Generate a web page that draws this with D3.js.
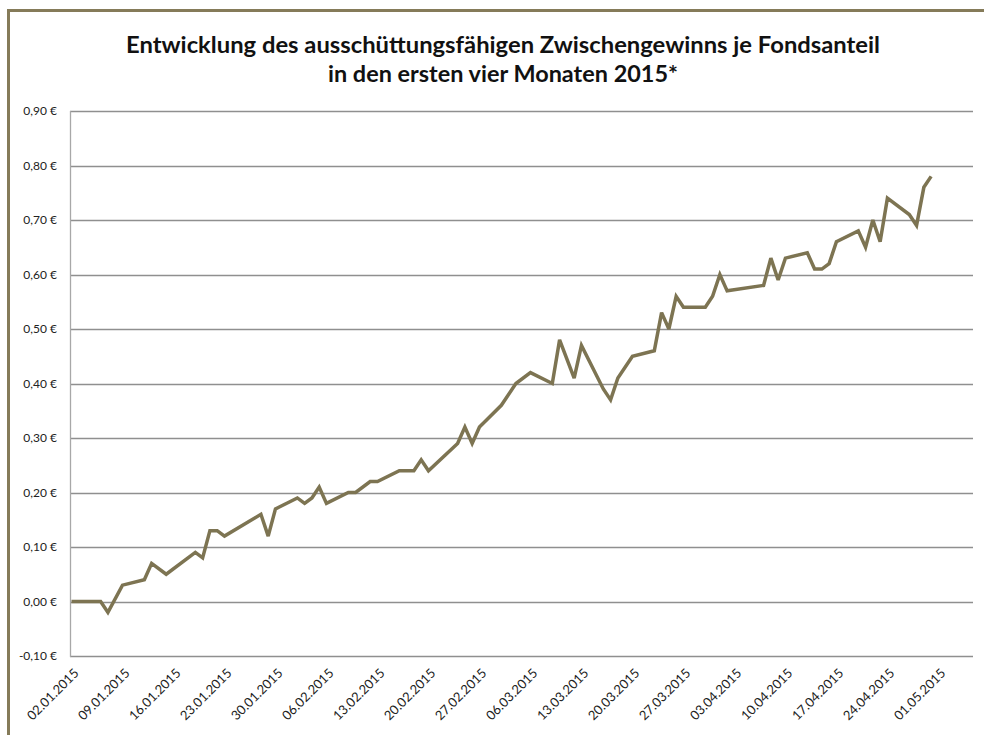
<!DOCTYPE html>
<html>
<head>
<meta charset="utf-8">
<script src="https://cdn.jsdelivr.net/npm/d3@7"></script>
<style>
  body { margin: 0; background: #fff; }
  svg { display: block; }
</style>
</head>
<body>
<div id="chart"></div>
<script>
// Werte je Handelstag (nur sichtbare Knickpunkte der Linie)
let dates = ["2015-01-02","2015-01-06","2015-01-07","2015-01-09","2015-01-12","2015-01-13","2015-01-15",
  "2015-01-19","2015-01-20","2015-01-21","2015-01-22","2015-01-23","2015-01-28","2015-01-29","2015-01-30",
  "2015-02-02","2015-02-03","2015-02-04","2015-02-05","2015-02-06","2015-02-09","2015-02-10","2015-02-12",
  "2015-02-13","2015-02-16","2015-02-18","2015-02-19","2015-02-20","2015-02-24","2015-02-25","2015-02-26",
  "2015-02-27","2015-03-02","2015-03-04","2015-03-06","2015-03-09","2015-03-10","2015-03-12","2015-03-13",
  "2015-03-16","2015-03-17","2015-03-18","2015-03-20","2015-03-23","2015-03-24","2015-03-25","2015-03-26",
  "2015-03-27","2015-03-30","2015-03-31","2015-04-01","2015-04-02","2015-04-07","2015-04-08","2015-04-09",
  "2015-04-10","2015-04-13","2015-04-14","2015-04-15","2015-04-16","2015-04-17","2015-04-20","2015-04-21",
  "2015-04-22","2015-04-23","2015-04-24","2015-04-27","2015-04-28","2015-04-29","2015-04-30"];

let values = [0.00,0.00,-0.02,0.03,0.04,0.07,0.05,
  0.09,0.08,0.13,0.13,0.12,0.16,0.12,0.17,
  0.19,0.18,0.19,0.21,0.18,0.20,0.20,0.22,
  0.22,0.24,0.24,0.26,0.24,0.29,0.32,0.29,
  0.32,0.36,0.40,0.42,0.40,0.48,0.41,0.47,
  0.39,0.37,0.41,0.45,0.46,0.53,0.50,0.56,
  0.54,0.54,0.56,0.60,0.57,0.58,0.63,0.59,
  0.63,0.64,0.61,0.61,0.62,0.66,0.68,0.65,
  0.70,0.66,0.74,0.71,0.69,0.76,0.78];

let yTicks = [-0.1,0,0.1,0.2,0.3,0.4,0.5,0.6,0.7,0.8,0.9];
let xTickLabels = ["02.01.2015","09.01.2015","16.01.2015","23.01.2015","30.01.2015","06.02.2015",
  "13.02.2015","20.02.2015","27.02.2015","06.03.2015","13.03.2015","20.03.2015","27.03.2015",
  "03.04.2015","10.04.2015","17.04.2015","24.04.2015","01.05.2015"];

let titleLines = ["Entwicklung des ausschüttungsfähigen Zwischengewinns je Fondsanteil",
  "in den ersten vier Monaten 2015*"];

let width = 984;
let height = 735;
let plot = {left: 70, right: 973, top: 111, bottom: 656};
let lineColor = "#7d7452";
let frameColor = "#857b59";

let parse = d3.timeParse("%Y-%m-%d");
let parseLabel = d3.timeParse("%d.%m.%Y");
let data = dates.map((d, i) => ({date: parse(d), value: values[i]}));

let svg = d3.select('#chart').append('svg')
  .attr('width', width)
  .attr('height', height)
  .style('font-family', 'Lato, "Open Sans", sans-serif');

// Rahmen (oben und links)
svg.append('path')
  .attr('d', `M8.5,${height} L8.5,10.5 L${width},10.5`)
  .attr('fill', 'none')
  .attr('stroke', frameColor)
  .attr('stroke-width', 3);

// Titel - breiter gezogen wie im Original (Calibri gibt es hier nicht)
let titleWidths = [754, 350];
svg.append('g').selectAll('text')
  .data(titleLines)
  .enter().append('text')
  .attr('x', 503)
  .attr('y', (d, i) => 53 + i * 29)
  .attr('text-anchor', 'middle')
  .attr('font-size', 22)
  .attr('font-weight', 'bold')
  .attr('fill', '#111')
  .attr('textLength', (d, i) => titleWidths[i])
  .attr('lengthAdjust', 'spacingAndGlyphs')
  .text(d => d);

let x = d3.scaleTime()
  .domain([parse("2015-01-02"), parse("2015-05-06")])
  .range([71.5, 71.5 + 124 * 7.285]);

let y = d3.scaleLinear()
  .domain([-0.1, 0.9])
  .range([plot.bottom, plot.top]);

let fmt = v => d3.format(".2f")(v).replace(".", ",").replace("−", "-") + " €";

// Gitterlinien
svg.append('g').selectAll('line')
  .data(yTicks)
  .enter().append('line')
  .attr('x1', plot.left)
  .attr('x2', plot.right)
  .attr('y1', d => Math.round(y(d)) + 0.5)
  .attr('y2', d => Math.round(y(d)) + 0.5)
  .attr('stroke', '#8f8f8f')
  .attr('stroke-width', 1.3);

// linke Achse
svg.append('line')
  .attr('x1', plot.left + 0.5).attr('x2', plot.left + 0.5)
  .attr('y1', plot.top).attr('y2', plot.bottom + 1)
  .attr('stroke', '#a8a8a8')
  .attr('stroke-width', 1.3);

// Y-Beschriftung
svg.append('g').selectAll('text')
  .data(yTicks)
  .enter().append('text')
  .attr('x', 57)
  .attr('y', d => y(d) + 4)
  .attr('text-anchor', 'end')
  .attr('font-size', 12)
  .attr('fill', '#222')
  .text(d => fmt(d));

// X-Beschriftung
svg.append('g').selectAll('text')
  .data(xTickLabels)
  .enter().append('text')
  .attr('transform', d => `translate(${x(parseLabel(d)) + 8},${plot.bottom + 18}) rotate(-45)`)
  .attr('text-anchor', 'end')
  .attr('font-size', 13)
  .attr('fill', '#222')
  .text(d => d);

// Linie
let line = d3.line()
  .x(d => x(d.date))
  .y(d => y(d.value));

svg.append('path')
  .datum(data)
  .attr('d', line)
  .attr('fill', 'none')
  .attr('stroke', lineColor)
  .attr('stroke-width', 3.5)
  .attr('stroke-linejoin', 'miter')
  .attr('stroke-miterlimit', 3);
</script>
</body>
</html>
